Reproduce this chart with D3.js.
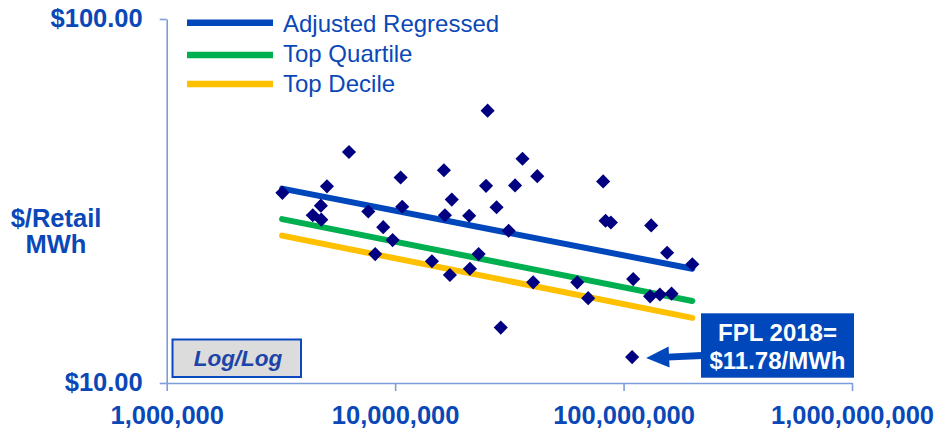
<!DOCTYPE html>
<html>
<head>
<meta charset="utf-8">
<script src="https://cdn.jsdelivr.net/npm/d3@7"></script>
<style>
  html, body { margin: 0; padding: 0; background: #ffffff; }
  svg { display: block; }
  text { font-family: "Liberation Sans", Arial, Helvetica, sans-serif; }
</style>
</head>
<body>
<svg id="chart" width="939" height="429"></svg>
<script>
// Retail MWh (x) and cost in $/retail MWh (y) for the peer utilities
const peerMWh = [
  2.54e7, 6.28e6, 3.61e7, 1.635e7, 4.19e7, 1.057e7, 5.03e6, 2.50e7, 3.35e7, 3.21e6,
  1.77e7, 4.73e6, 1.074e7, 2.78e7, 7.63e6, 4.36e6, 1.652e7, 2.11e7, 4.75e6, 8.87e6,
  3.14e7, 9.75e6, 2.32e7, 8.18e6, 1.449e7, 2.125e7, 1.737e7, 4.02e7, 6.27e7, 2.90e7,
  8.14e7, 8.34e7, 8.80e7, 1.321e8, 1.551e8, 2.00e8, 1.102e8, 7.0e7, 1.307e8, 1.442e8,
  1.622e8
];
const peerCost = [
  56.0, 43.1, 41.3, 38.4, 37.0, 36.7, 34.7, 34.8, 34.9, 33.3,
  31.9, 30.7, 30.5, 30.4, 29.6, 28.9, 28.9, 28.8, 28.1, 26.8,
  26.2, 24.7, 22.6, 22.6, 21.6, 20.6, 19.8, 18.9, 18.9, 14.2,
  35.8, 27.9, 27.6, 27.1, 22.8, 21.2, 19.3, 17.1, 17.3, 17.5,
  17.6
];

// FPL 2018
const fplMWh = 1.09e8;
const fplCost = 11.78;

// Benchmark lines (end points)
const fitMWh = [3.2e6, 2.0e8];
const adjustedRegressed = [34.2, 20.6];
const topQuartile = [28.2, 16.8];
const topDecile = [25.4, 15.1];

const seriesNames = ["Adjusted Regressed", "Top Quartile", "Top Decile"];
const seriesColors = ["#0047bb", "#00b050", "#ffc000"];

const xTicks = [1e6, 1e7, 1e8, 1e9];
const yTicks = [10, 100];

const textBlue = "#0a48b8";
const axisBlue = "#7e9ddb";

const svg = d3.select("#chart");

const x = d3.scaleLog().domain([1e6, 1e9]).range([166.7, 852]);
const y = d3.scaleLog().domain([10, 100]).range([383, 19]);

// Axes
const xAxis = svg.append("g")
  .attr("transform", `translate(0,${y(10)})`)
  .call(d3.axisBottom(x).tickValues(xTicks).tickFormat(d3.format(","))
    .tickSize(8).tickSizeOuter(0).tickPadding(15));

const yAxis = svg.append("g")
  .attr("transform", `translate(${x(1e6)},0)`)
  .call(d3.axisLeft(y).tickValues(yTicks).tickFormat(d => "$" + d3.format(".2f")(d))
    .tickSize(7).tickSizeOuter(0).tickPadding(17));

[xAxis, yAxis].forEach(g => {
  g.select(".domain").attr("stroke", axisBlue).attr("stroke-width", 1.6);
  g.selectAll(".tick line").attr("stroke", axisBlue).attr("stroke-width", 1.6);
  g.selectAll(".tick text")
    .attr("fill", textBlue)
    .style("font-family", '"Liberation Sans", Arial, sans-serif')
    .style("font-size", "25.5px")
    .style("font-weight", "bold");
});
yAxis.selectAll(".tick text").attr("dy", "0.3em");

// Y axis title
svg.append("text")
  .attr("x", 56).attr("y", 227)
  .attr("text-anchor", "middle")
  .attr("fill", textBlue)
  .style("font-size", "25.5px").style("font-weight", "bold")
  .selectAll("tspan").data(["$/Retail", "MWh"]).join("tspan")
  .attr("x", 56).attr("dy", (d, i) => i === 0 ? 0 : 26)
  .text(d => d);

// Benchmark lines
const line = d3.line().x(d => x(d[0])).y(d => y(d[1]));
[adjustedRegressed, topQuartile, topDecile].forEach((vals, i) => {
  svg.append("path")
    .datum(fitMWh.map((m, j) => [m, vals[j]]))
    .attr("d", line)
    .attr("fill", "none")
    .attr("stroke", seriesColors[i])
    .attr("stroke-width", 6)
    .attr("stroke-linecap", "round");
});

// Peer points
const diamond = d3.symbol().type(d3.symbolSquare).size(100);
svg.append("g").selectAll("path")
  .data(peerMWh.map((m, i) => [m, peerCost[i]]))
  .join("path")
  .attr("d", diamond)
  .attr("transform", d => `translate(${x(d[0])},${y(d[1])}) rotate(45)`)
  .attr("fill", "#000080");

// FPL point
svg.append("path")
  .attr("d", diamond)
  .attr("transform", `translate(${x(fplMWh)},${y(fplCost)}) rotate(45)`)
  .attr("fill", "#000080");

// Legend
const legendLineY = [22.7, 55, 84];
const legendTextY = [32.3, 62.3, 92.3];
const legend = svg.append("g");
seriesNames.forEach((name, i) => {
  legend.append("line")
    .attr("x1", 187).attr("x2", 273)
    .attr("y1", legendLineY[i]).attr("y2", legendLineY[i])
    .attr("stroke", seriesColors[i]).attr("stroke-width", 6.5);
  legend.append("text")
    .attr("x", 283).attr("y", legendTextY[i])
    .attr("fill", textBlue)
    .style("font-size", "24px")
    .text(name);
});

// Log/Log note
svg.append("rect")
  .attr("x", 172.5).attr("y", 339.5).attr("width", 128.5).attr("height", 37.5)
  .attr("fill", "#dcdcdc").attr("stroke", "#0a48c0").attr("stroke-width", 2);
svg.append("text")
  .attr("x", 238).attr("y", 365.5)
  .attr("text-anchor", "middle")
  .attr("fill", "#1d44a8")
  .style("font-size", "22.5px").style("font-weight", "bold").style("font-style", "italic")
  .text("Log/Log");

// FPL callout
const boxX = 701, boxY = 313.3, boxW = 153, boxH = 64.4;
const calloutBlue = "#0047bb";
const tipX = x(fplMWh) + 14, tipY = y(fplCost) + 1;
const tailX = boxX + 1, tailY = 355.5;
const ang = Math.atan2(tipY - tailY, tipX - tailX);
const headLen = 23, headHalf = 10.5;
const baseX = tipX - headLen * Math.cos(ang), baseY = tipY - headLen * Math.sin(ang);
const px = -Math.sin(ang), py = Math.cos(ang);

svg.append("line")
  .attr("x1", tailX).attr("y1", tailY)
  .attr("x2", baseX + 2 * Math.cos(ang)).attr("y2", baseY + 2 * Math.sin(ang))
  .attr("stroke", calloutBlue).attr("stroke-width", 7);
svg.append("polygon")
  .attr("points", [
    [tipX, tipY],
    [baseX + px * headHalf, baseY + py * headHalf],
    [baseX - px * headHalf, baseY - py * headHalf]
  ].map(p => p.join(",")).join(" "))
  .attr("fill", calloutBlue);

svg.append("rect")
  .attr("x", boxX).attr("y", boxY).attr("width", boxW).attr("height", boxH)
  .attr("fill", calloutBlue);
svg.append("text")
  .attr("x", boxX + boxW / 2).attr("y", 340.7)
  .attr("text-anchor", "middle")
  .attr("fill", "#ffffff")
  .style("font-size", "24px").style("font-weight", "bold")
  .text("FPL 2018=");
svg.append("text")
  .attr("x", boxX + boxW / 2).attr("y", 369.3)
  .attr("text-anchor", "middle")
  .attr("fill", "#ffffff")
  .style("font-size", "24px").style("font-weight", "bold")
  .text("$" + d3.format(".2f")(fplCost) + "/MWh");
</script>
</body>
</html>
